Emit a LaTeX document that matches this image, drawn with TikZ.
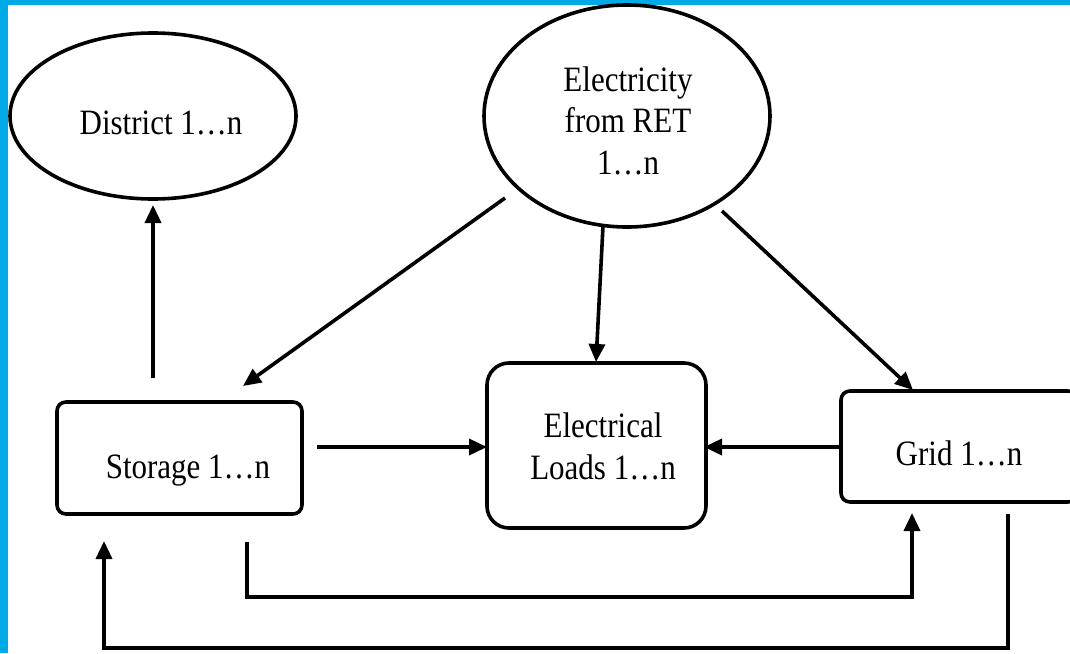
\documentclass[tikz,border=0pt]{standalone}
\usepackage{graphicx}
\usepackage{fontspec}
\setmainfont{Liberation Serif}
\usetikzlibrary{shapes.geometric,arrows.meta}
\definecolor{frameblue}{RGB}{0,170,230}
\newcommand\tallline[1]{\scalebox{1}[1.15]{#1}}
\tikzset{
  x=1pt, y=-1pt,
  shapeline/.style={draw=black, line width=3.6pt},
  oval/.style={shapeline, ellipse, inner sep=0pt},
  boxnode/.style={shapeline, rectangle, inner sep=0pt},
  lbl/.style={font=\fontsize{31}{41.5}\selectfont, align=center, anchor=base, inner sep=0pt},
  conn/.style={line width=3.6pt, -{Triangle[length=18pt,width=16pt]}},
}
\begin{document}
\begin{tikzpicture}
\useasboundingbox (0,0) rectangle (1070,653);
\fill[white] (0,0) rectangle (1070,653);
\fill[frameblue] (0,0) rectangle (8,653);
\fill[frameblue] (0,0) rectangle (1070,5);

% shapes
\node[oval, minimum width=286pt, minimum height=166pt] (district) at (153,116) {};
\node[oval, minimum width=286pt, minimum height=222pt] (ret) at (627,116) {};
\node[boxnode, rounded corners=9pt, minimum width=245pt, minimum height=112pt] (storage) at (179.5,458) {};
\node[boxnode, rounded corners=22pt, minimum width=219pt, minimum height=165pt] (loads) at (596.5,445.5) {};
\node[boxnode, rounded corners=9pt, minimum width=236pt, minimum height=111pt] (grid) at (959,446.5) {};

% labels (anchor base = baseline of the last line)
\node[lbl] (tdistrict) at (161,134) {\tallline{District 1…n}};
\node[lbl] (tret) at (628,174) {\tallline{Electricity}\\\tallline{from RET}\\\tallline{1…n}};
\node[lbl] (tstorage) at (188,478) {\tallline{Storage 1…n}};
\node[lbl] (tloads) at (603,479) {\tallline{Electrical}\\\tallline{Loads 1…n}};
\node[lbl] (tgrid) at (959,465) {\tallline{Grid 1…n}};

% connector end points
\coordinate (s2dA) at (153,378);
\coordinate (s2dB) at (153,205);
\coordinate (e2sA) at (505,198);
\coordinate (e2sB) at (243,386);
\coordinate (e2lA) at (603,226);
\coordinate (e2lB) at (596,362);
\coordinate (e2gA) at (722,211);
\coordinate (e2gB) at (913,390);
\coordinate (s2lA) at (317,447);
\coordinate (s2lB) at (487,447);
\coordinate (g2lA) at (840,447);
\coordinate (g2lB) at (704,447);
\coordinate (s2gA) at (247,542);
\coordinate (s2gB) at (912,513);
\coordinate (g2sA) at (1008,514);
\coordinate (g2sB) at (104,541);

% connectors
\draw[conn] (s2dA) -- (s2dB);
\draw[conn] (e2sA) -- (e2sB);
\draw[conn] (e2lA) -- (e2lB);
\draw[conn] (e2gA) -- (e2gB);
\draw[conn] (s2lA) -- (s2lB);
\draw[conn] (g2lA) -- (g2lB);
\draw[conn] (s2gA) |- (912,597) -- (s2gB);
\draw[conn] (g2sA) |- (104,648) -- (g2sB);
\end{tikzpicture}
\end{document}
